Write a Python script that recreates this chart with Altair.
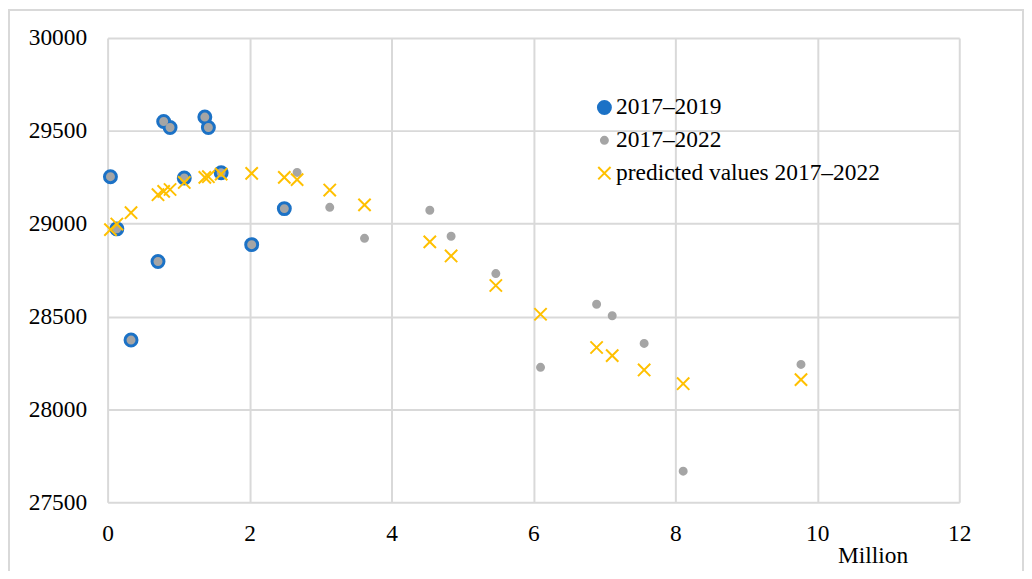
import altair as alt
import pandas as pd

# x values (million) shared by all series
x_vals = [0.04, 0.13, 0.33, 0.71, 0.79, 0.88, 1.08, 1.37, 1.42, 1.60, 2.03, 2.49,
          2.67, 3.13, 3.62, 4.54, 4.84, 5.47, 6.10, 6.89, 7.11, 7.56, 8.11, 9.77]

# 2017–2019 observations (first 12 x values)
y_2019 = [29253, 28972, 28373, 28796, 29550, 29518, 29246, 29574, 29518, 29274, 28887, 29081]

# 2017–2022 observations (all 24 x values)
y_2022 = y_2019 + [29276, 29088, 28921, 29072, 28932, 28731, 28226, 28566, 28504, 28355, 27667, 28242]

# predicted values 2017–2022
y_pred = [28968, 28998, 29059, 29156, 29174, 29184, 29222, 29249, 29253, 29267, 29271, 29249,
          29237, 29181, 29101, 28902, 28826, 28667, 28512, 28333, 28289, 28212, 28138, 28160]

series_names = ["2017–2019", "2017–2022", "predicted values 2017–2022"]
series_colors = ["#1C72C6", "#A5A5A5", "#FFC000"]
series_shapes = [
    "circle",
    "M-0.54,0A0.54,0.54 0 1,0 0.54,0A0.54,0.54 0 1,0 -0.54,0Z",
    "M-0.95,-0.95L0.95,0.95M0.95,-0.95L-0.95,0.95",
]
SYM = 169

x_ticks = [0, 2, 4, 6, 8, 10, 12]
y_ticks = [27500, 28000, 28500, 29000, 29500, 30000]

rows = []
for xv, yv in zip(x_vals[:len(y_2019)], y_2019):
    rows.append({"x": xv, "y": yv, "series": series_names[0]})
for xv, yv in zip(x_vals, y_2022):
    rows.append({"x": xv, "y": yv, "series": series_names[1]})
for xv, yv in zip(x_vals, y_pred):
    rows.append({"x": xv, "y": yv, "series": series_names[2]})
df = pd.DataFrame(rows)

FONT = "Liberation Serif"
FS = 23.5

leg = alt.Legend(
    title=None,
    orient="none",
    legendX=487,
    legendY=58,
    labelFont=FONT,
    labelFontSize=FS,
    labelColor="black",
    labelOffset=0,
    labelLimit=0,
    rowPadding=8,
    symbolStrokeWidth=2,
    symbolSize=SYM,
)

points = alt.Chart(df).mark_point(filled=True, strokeWidth=2, opacity=1, size=SYM).encode(
    x=alt.X("x:Q",
            scale=alt.Scale(domain=[0, 12], nice=False, zero=False),
            axis=alt.Axis(values=x_ticks, title="Million", titleX=768, titleY=54,
                          titleBaseline="middle", titleAlign="center",
                          labelPadding=19, labelFlush=False, format="d")),
    y=alt.Y("y:Q",
            scale=alt.Scale(domain=[27500, 30000], nice=False, zero=False),
            axis=alt.Axis(values=y_ticks, title=None, labelPadding=21, labelFlush=False,
                          format="d")),
    fill=alt.Fill("series:N", scale=alt.Scale(domain=series_names, range=series_colors), legend=leg),
    stroke=alt.Stroke("series:N", scale=alt.Scale(domain=series_names, range=series_colors), legend=leg),
    shape=alt.Shape("series:N", scale=alt.Scale(domain=series_names, range=series_shapes), legend=leg),
)

border = alt.Chart(pd.DataFrame({"a": [0]})).mark_rect(
    fill="transparent", stroke="#d9d9d9", strokeWidth=2
).encode(
    x=alt.value(-99), x2=alt.value(919), y=alt.value(-28), y2=alt.value(700)
)

chart = alt.layer(border, points).properties(
    width=855,
    height=466,
    autosize=alt.AutoSizeParams(type="none"),
    padding={"left": 100, "top": 29, "right": 65, "bottom": 68},
).configure_view(
    stroke=None
).configure_axis(
    grid=True,
    gridColor="#d9d9d9",
    gridWidth=2,
    domain=False,
    ticks=False,
    labelFont=FONT,
    labelFontSize=FS,
    labelColor="black",
    titleFont=FONT,
    titleFontSize=FS,
    titleFontWeight="normal",
    titleColor="black",
)

chart.save("out.html", embed_options={"renderer": "svg", "actions": False})
